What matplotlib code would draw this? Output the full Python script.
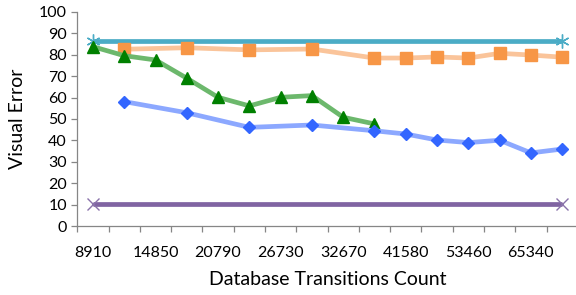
import numpy as np
import matplotlib
matplotlib.use("Agg")
import matplotlib.pyplot as plt

categories = [8910, 11880, 14850, 17820, 20790, 23760, 26730, 29700,
              32670, 38610, 41580, 47520, 53460, 59400, 65340, 71280]
tick_labels = ["8910", "", "14850", "", "20790", "", "26730", "",
               "32670", "", "41580", "", "53460", "", "65340", ""]

upper_bound = [86.5] + [None] * 14 + [86.5]
lower_bound = [10.5] + [None] * 14 + [10.5]
orange_vals = [None, 82.5, None, 83.2, None, 82.2, None, 82.6,
               None, 78.4, 78.4, 78.9, 78.4, 80.6, 79.8, 78.8]
green_vals = [83.7, 79.5, 77.5, 69.0, 60.1, 56.1, 60.1, 60.9,
              50.8, 47.7, None, None, None, None, None, None]
blue_vals = [None, 58.1, None, 52.9, None, 46.1, None, 47.2,
             None, 44.5, 43.0, 40.2, 39.0, 40.1, 34.2, 36.0]

plt.rcParams['font.family'] = ['Lato', 'DejaVu Sans']

fig = plt.figure(figsize=(5.76, 2.95), dpi=100)
ax = fig.add_axes([0.1342, 0.2329, 0.869, 0.7275])

x_all = np.arange(len(categories))


def series(vals):
    xs = [x for x, v in zip(x_all, vals) if v is not None]
    ys = [v for v in vals if v is not None]
    return xs, ys


lw = 3.4
xs, ys = series(lower_bound)
ax.plot(xs, ys, color='#8064A2', lw=lw, marker='x', ms=9, mew=1.0,
        mec='#8A72AA', zorder=2, solid_capstyle='butt')
xs, ys = series(upper_bound)
ax.plot(xs, ys, color='#4BACC6', lw=lw, marker=(6, 2, 0), ms=10, mew=1.0,
        mec='#4BACC6', zorder=2, solid_capstyle='butt')
xs, ys = series(orange_vals)
ax.plot(xs, ys, color='#FAC49A', lw=lw, zorder=3)
ax.plot(xs, ys, ls='none', marker='s', ms=8.5, color='#F79646',
        mec='#F79646', zorder=4)
xs, ys = series(green_vals)
ax.plot(xs, ys, color='#6CB86C', lw=lw, zorder=5)
ax.plot(xs, ys, ls='none', marker='^', ms=8.5, color='#008000',
        mec='#008000', zorder=6)
xs, ys = series(blue_vals)
ax.plot(xs, ys, color='#8CA8FF', lw=lw, zorder=7)
ax.plot(xs, ys, ls='none', marker='D', ms=5.8, color='#3366FF',
        mec='#3366FF', zorder=8)

ax.set_xlim(-0.5, len(categories) - 0.5)
ax.set_ylim(0, 100)
ax.set_yticks(np.arange(0, 101, 10))
ax.set_xticks(x_all)
ax.set_xticklabels(tick_labels)
ax.set_xticks(np.arange(-0.5, len(categories), 1.0), minor=True)
ax.tick_params(axis='x', which='major', length=0, pad=14, labelsize=11.5,
               labelcolor='#000000')
ax.tick_params(axis='x', which='minor', length=4.5, width=0.9,
               color='#868686', direction='out')
ax.tick_params(axis='y', length=4.5, width=0.9, color='#868686',
               labelsize=11.5, pad=3)

for s in ['top', 'right']:
    ax.spines[s].set_visible(False)
for s in ['left', 'bottom']:
    ax.spines[s].set_color('#868686')
    ax.spines[s].set_linewidth(0.9)

ax.set_xlabel('Database Transitions Count', fontsize=14, labelpad=8)
ax.set_ylabel('Visual Error', fontsize=14, labelpad=9)

fig.savefig('out.png', dpi=100)
